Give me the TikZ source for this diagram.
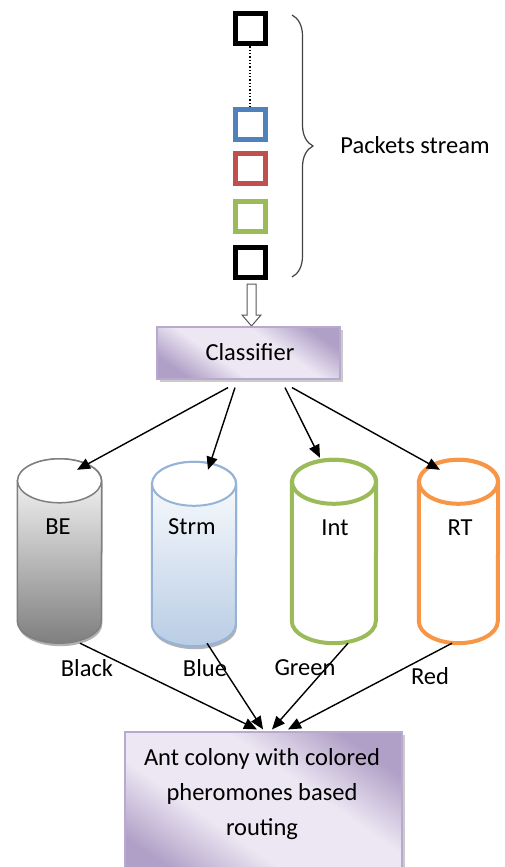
\documentclass[tikz,border=0pt]{standalone}
\usepackage{fontspec}
\setmainfont{Carlito}
\usetikzlibrary{arrows.meta,calc,decorations.pathreplacing,shadows}
\definecolor{pblue}{HTML}{4F81BD}
\definecolor{pred}{HTML}{C0504D}
\definecolor{pgreen}{HTML}{9BBB59}
\definecolor{porange}{HTML}{F79646}
\definecolor{pgray}{HTML}{7F7F7F}
\definecolor{lblue}{HTML}{95B3D7}
\definecolor{lbluefill}{HTML}{B9CDE5}
\definecolor{purpdark}{HTML}{B09FC6}
\definecolor{purpedge}{HTML}{B8A9CF}
\definecolor{purplight}{HTML}{ECE7F3}
\pgfdeclareverticalshading{purpsh}{100bp}{color(0bp)=(purpdark); color(24bp)=(purpdark); color(40bp)=(purplight); color(60bp)=(purplight); color(76bp)=(purpdark); color(100bp)=(purpdark)}
\newcommand{\drawcyl}[7]{%
  \pgfmathsetmacro{\cyh}{#4-#3}%
  \pgfmathsetmacro{\cyc}{-(#3+#4)/2}%
  \pgfmathsetmacro{\cyw}{2*#5}%
  \node[inner sep=0pt, minimum width=\cyw pt, minimum height=\cyh pt] (#1) at (#2,\cyc) {};
  \path[#6] ($(#1.north west)+(0,-22)$) -- ($(#1.south west)+(0,22)$)
     arc[start angle=180,end angle=360,x radius={#5pt},y radius=22pt]
     -- ($(#1.north east)+(0,-22)$)
     arc[start angle=0,end angle=180,x radius={#5pt},y radius=22pt] -- cycle;
  \path[#7] ($(#1.north)+(0,-22)$) ellipse[x radius={#5pt},y radius=22pt];
}
\begin{document}
\begin{tikzpicture}[x=1pt,y=1pt,
  font=\fontsize{24.5}{35}\selectfont,
  pkt/.style={draw=#1, line width=5pt, minimum size=30pt, inner sep=0pt},
  arr/.style={-{Triangle[length=13pt,width=11pt]}, line width=1.4pt},
  purpbox/.style={draw=purpedge, line width=1.2pt, shading=purpsh, shading angle=-35,
     drop shadow={shadow xshift=3pt, shadow yshift=-3pt, fill=black!45, opacity=0.45}},
  lbl/.style={inner sep=0pt},
  shadowed/.style={preaction={fill=black!30, transform canvas={xshift=1pt,yshift=-3pt}}}
]
\clip (0,0) rectangle (505,-867);
\fill[white] (0,0) rectangle (505,-867);

% packets
\node[pkt=black]  (p1) at (250,-29) {};
\node[pkt=pblue]  (p2) at (250,-124.5) {};
\node[pkt=pred]   (p3) at (250,-168) {};
\node[pkt=pgreen] (p4) at (250,-216) {};
\node[pkt=black]  (p5) at (250,-262) {};
\draw[dotted, line width=1.3pt] (p1.south) -- (p2.north);

% brace
\draw[black!75, line width=1.2pt, decorate, decoration={brace, amplitude=21pt}] (292,-15) -- (292,-277);
\node[lbl] (ps) at (415,-145) {Packets stream};

% hollow arrow
\draw[black!65, line width=1pt, fill=white, line join=miter]
  (247,-284) -- (247,-315) -- (242,-315) -- (251.5,-326) -- (261,-315) -- (256,-315) -- (256,-284) -- cycle;

% classifier
\node[purpbox, minimum width=183pt, minimum height=52pt] (cls) at (248.5,-353) {};
\node[lbl] (clst) at (250,-352) {Classifier};

% cylinders
\drawcyl{be}{59.5}{459}{643}{42}{shadowed, draw=pgray, line width=1.5pt, top color=white, bottom color=pgray}{draw=pgray, line width=1.5pt, fill=white}
\drawcyl{strm}{194}{462}{646}{42}{shadowed, draw=lblue, line width=2pt, top color=white, bottom color=lbluefill}{draw=lblue, line width=2pt, fill=white}
\drawcyl{intc}{334}{460}{643}{42}{draw=pgreen, line width=4pt, fill=white}{draw=pgreen, line width=4pt, fill=white}
\drawcyl{rtc}{458.5}{460}{643}{39.5}{draw=porange, line width=4pt, fill=white}{draw=porange, line width=4pt, fill=white}

\node[lbl] (bel) at (58,-527) {BE};
\node[lbl] (strml) at (192,-527) {Strm};
\node[lbl] (intl) at (335,-528) {Int};
\node[lbl] (rtl) at (460,-528) {RT};

% arrows from classifier
\draw[arr] ($(cls.south)+(-20.5,-8)$) -- ($(be.north)+(17.5,-11)$);
\draw[arr] ($(cls.south)+(-13.5,-8)$) -- ($(strm.north)+(14,-8)$);
\draw[arr] ($(cls.south)+(36.5,-8)$) -- ($(intc.north)+(-14,2)$);
\draw[arr] ($(cls.south)+(43.5,-8)$) -- ($(rtc.north)+(-18.5,-10)$);

% bottom box
\node[purpbox, minimum width=277pt, minimum height=150pt] (ant) at (263.5,-807) {};
\node[lbl, align=center, anchor=north] (antt) at (262,-748) {Ant colony with colored\\pheromones based\\routing};

% colour labels
\node[lbl] (blk) at (87,-668) {Black};
\node[lbl] (blu) at (205,-668) {Blue};
\node[lbl] (grn) at (305,-668) {Green};
\node[lbl] (red) at (430,-676) {Red};

% arrows to routing
\draw[arr] ($(be.south)+(20.5,0)$) -- ($(ant.north)+(-6.5,2)$);
\draw[arr] ($(strm.south)+(13,3)$) -- ($(ant.north)+(-0.5,2)$);
\draw[arr] ($(intc.south)+(14,0)$) -- ($(ant.north)+(8.5,2)$);
\draw[arr] ($(rtc.south)+(-6.5,0)$) -- ($(ant.north)+(24.5,2)$);
\end{tikzpicture}
\end{document}
